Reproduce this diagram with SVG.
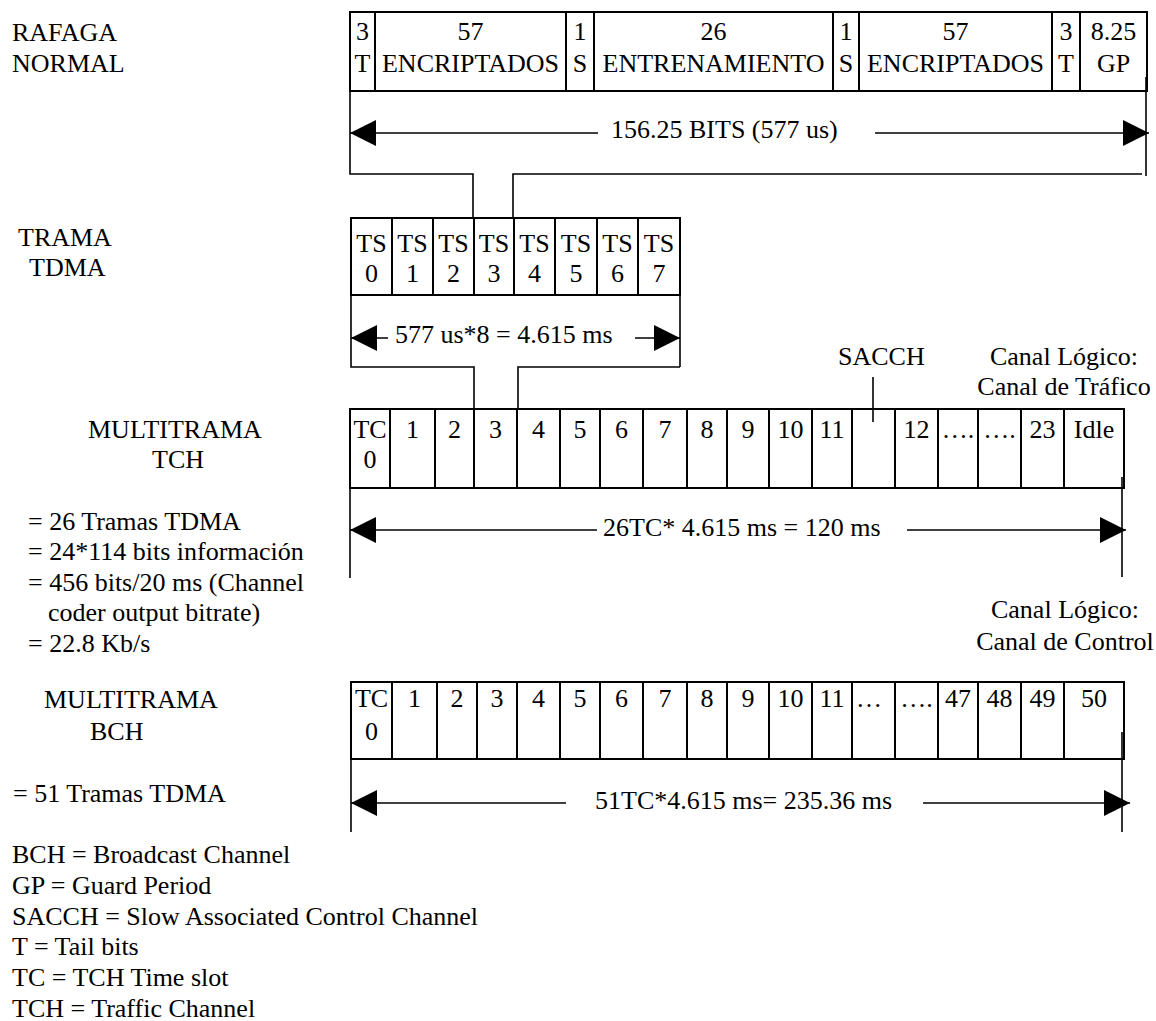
<svg xmlns="http://www.w3.org/2000/svg" width="1156" height="1021" viewBox="0 0 1156 1021">
<style>
text{font-family:"Liberation Serif","Times New Roman",serif;font-size:26px;fill:#000}
.c{text-anchor:middle}
.box{fill:none;stroke:#000;stroke-width:2}
.dv{stroke:#000;stroke-width:2}
.ln{fill:none;stroke:#000;stroke-width:1.6}
.ar{fill:none;stroke:#000;stroke-width:1.6;marker-end:url(#ah)}
</style>
<defs>
<marker id="ah" markerUnits="userSpaceOnUse" markerWidth="27" markerHeight="27" refX="26" refY="13" orient="auto" viewBox="0 0 27 27">
<path d="M0,0 L26,13 L0,26 z" fill="#000"/>
</marker>
</defs>
<rect width="1156" height="1021" fill="#fff"/>

<g id="labels">
<text x="12" y="41">RAFAGA</text>
<text x="12" y="72">NORMAL</text>
<text x="18" y="246">TRAMA</text>
<text x="29" y="276">TDMA</text>
<text x="88" y="438">MULTITRAMA</text>
<text x="152" y="468">TCH</text>
<text x="28" y="530">= 26 Tramas TDMA</text>
<text x="28" y="560">= 24*114 bits información</text>
<text x="28" y="591">= 456 bits/20 ms (Channel</text>
<text x="48" y="621">coder output bitrate)</text>
<text x="28" y="652">= 22.8 Kb/s</text>
<text x="44" y="708">MULTITRAMA</text>
<text x="90" y="740">BCH</text>
<text x="13" y="802">= 51 Tramas TDMA</text>
<text x="12" y="863">BCH = Broadcast Channel</text>
<text x="12" y="894">GP = Guard Period</text>
<text x="12" y="925">SACCH = Slow Associated Control Channel</text>
<text x="12" y="955">T = Tail bits</text>
<text x="12" y="986">TC = TCH Time slot</text>
<text x="12" y="1017">TCH = Traffic Channel</text>
<text x="838" y="365">SACCH</text>
<text class="c" x="1064" y="365">Canal Lógico:</text>
<text class="c" x="1064" y="395">Canal de Tráfico</text>
<text class="c" x="1065" y="618">Canal Lógico:</text>
<text class="c" x="1065" y="650">Canal de Control</text>
</g>

<g id="burst">
<rect class="box" x="350" y="12" width="797" height="79"/>
<path class="dv" d="M375,12V91M566,12V91M594,12V91M833,12V91M859,12V91M1052,12V91M1080,12V91"/>
<text class="c" x="362.5" y="40">3</text><text class="c" x="362.5" y="72">T</text>
<text class="c" x="470.5" y="40">57</text><text class="c" x="470.5" y="72">ENCRIPTADOS</text>
<text class="c" x="580" y="40">1</text><text class="c" x="580" y="72">S</text>
<text class="c" x="713.5" y="40">26</text><text class="c" x="713.5" y="72">ENTRENAMIENTO</text>
<text class="c" x="846" y="40">1</text><text class="c" x="846" y="72">S</text>
<text class="c" x="955.5" y="40">57</text><text class="c" x="955.5" y="72">ENCRIPTADOS</text>
<text class="c" x="1066" y="40">3</text><text class="c" x="1066" y="72">T</text>
<text class="c" x="1113.5" y="40">8.25</text><text class="c" x="1113.5" y="72">GP</text>
</g>

<g id="tdma">
<rect class="box" x="351" y="218" width="329" height="77"/>
<path class="dv" d="M392,218V295M433,218V295M474,218V295M514,218V295M555,218V295M597,218V295M638,218V295"/>
<g class="c">
<text class="c" x="371.5" y="252">TS</text><text class="c" x="371.5" y="282">0</text>
<text class="c" x="412.5" y="252">TS</text><text class="c" x="412.5" y="282">1</text>
<text class="c" x="453.5" y="252">TS</text><text class="c" x="453.5" y="282">2</text>
<text class="c" x="494" y="252">TS</text><text class="c" x="494" y="282">3</text>
<text class="c" x="534.5" y="252">TS</text><text class="c" x="534.5" y="282">4</text>
<text class="c" x="576" y="252">TS</text><text class="c" x="576" y="282">5</text>
<text class="c" x="617.5" y="252">TS</text><text class="c" x="617.5" y="282">6</text>
<text class="c" x="659" y="252">TS</text><text class="c" x="659" y="282">7</text>
</g>
</g>

<g id="tch">
<rect class="box" x="350" y="409" width="774" height="79"/>
<path class="dv" d="M390,409V488M435,409V488M474,409V488M517,409V488M560,409V488M600,409V488M643,409V488M687,409V488M727,409V488M769,409V488M812,409V488M852,409V488M895,409V488M938,409V488M978,409V488M1021,409V488M1064,409V488"/>
<text class="c" x="370" y="438">TC</text><text class="c" x="370" y="468">0</text>
<text class="c" x="412.5" y="438">1</text>
<text class="c" x="454.5" y="438">2</text>
<text class="c" x="495.5" y="438">3</text>
<text class="c" x="538.5" y="438">4</text>
<text class="c" x="580" y="438">5</text>
<text class="c" x="621.5" y="438">6</text>
<text class="c" x="665" y="438">7</text>
<text class="c" x="707" y="438">8</text>
<text class="c" x="748" y="438">9</text>
<text class="c" x="790.5" y="438">10</text>
<text class="c" x="832" y="438">11</text>
<text class="c" x="916.5" y="438">12</text>
<text class="c" x="958" y="438">….</text>
<text class="c" x="999.5" y="438">….</text>
<text class="c" x="1042.5" y="438">23</text>
<text class="c" x="1094" y="438">Idle</text>
</g>

<g id="bch">
<rect class="box" x="351" y="682" width="773" height="77"/>
<path class="dv" d="M392,682V759M437,682V759M477,682V759M517,682V759M560,682V759M600,682V759M643,682V759M687,682V759M727,682V759M769,682V759M812,682V759M852,682V759M895,682V759M938,682V759M978,682V759M1021,682V759M1064,682V759"/>
<text class="c" x="371.5" y="707">TC</text><text class="c" x="371.5" y="740">0</text>
<text class="c" x="414.5" y="707">1</text>
<text class="c" x="457" y="707">2</text>
<text class="c" x="497" y="707">3</text>
<text class="c" x="538.5" y="707">4</text>
<text class="c" x="580" y="707">5</text>
<text class="c" x="621.5" y="707">6</text>
<text class="c" x="665" y="707">7</text>
<text class="c" x="707" y="707">8</text>
<text class="c" x="748" y="707">9</text>
<text class="c" x="790.5" y="707">10</text>
<text class="c" x="832" y="707">11</text>
<text x="856" y="707">…</text>
<text class="c" x="916.5" y="707">….</text>
<text class="c" x="958" y="707">47</text>
<text class="c" x="999.5" y="707">48</text>
<text class="c" x="1042.5" y="707">49</text>
<text class="c" x="1094" y="707">50</text>
</g>

<g id="connectors">
<polyline class="ln" points="350,91 350,174 473,174 473,218"/>
<polyline class="ln" points="513,218 513,174 1142,174"/>
<line class="ln" x1="1146" y1="77" x2="1146" y2="176"/>
<polyline class="ln" points="351,295 351,367 474,367 474,409"/>
<polyline class="ln" points="518,409 518,367 680,367"/>
<line class="ln" x1="680" y1="267" x2="680" y2="367"/>
<line class="ln" x1="350" y1="477" x2="350" y2="578"/>
<line class="ln" x1="1122" y1="477" x2="1122" y2="577"/>
<line class="ln" x1="873" y1="377" x2="873" y2="422"/>
<line class="ln" x1="351" y1="732" x2="351" y2="832"/>
<line class="ln" x1="1122" y1="732" x2="1122" y2="832"/>
<line class="ar" x1="598" y1="133" x2="350" y2="133"/>
<line class="ar" x1="875" y1="133" x2="1149" y2="133"/>
<line class="ar" x1="388" y1="338" x2="351" y2="338"/>
<line class="ar" x1="635" y1="338" x2="680" y2="338"/>
<line class="ar" x1="597" y1="530" x2="350" y2="530"/>
<line class="ar" x1="907" y1="530" x2="1126" y2="530"/>
<line class="ar" x1="566" y1="803" x2="351" y2="803"/>
<line class="ar" x1="923" y1="803" x2="1130" y2="803"/>
<text x="611" y="138">156.25 BITS (577 us)</text>
<text x="395" y="343">577 us*8 = 4.615 ms</text>
<text x="603" y="536">26TC* 4.615 ms = 120 ms</text>
<text x="595" y="809">51TC*4.615 ms= 235.36 ms</text>
</g>
</svg>
